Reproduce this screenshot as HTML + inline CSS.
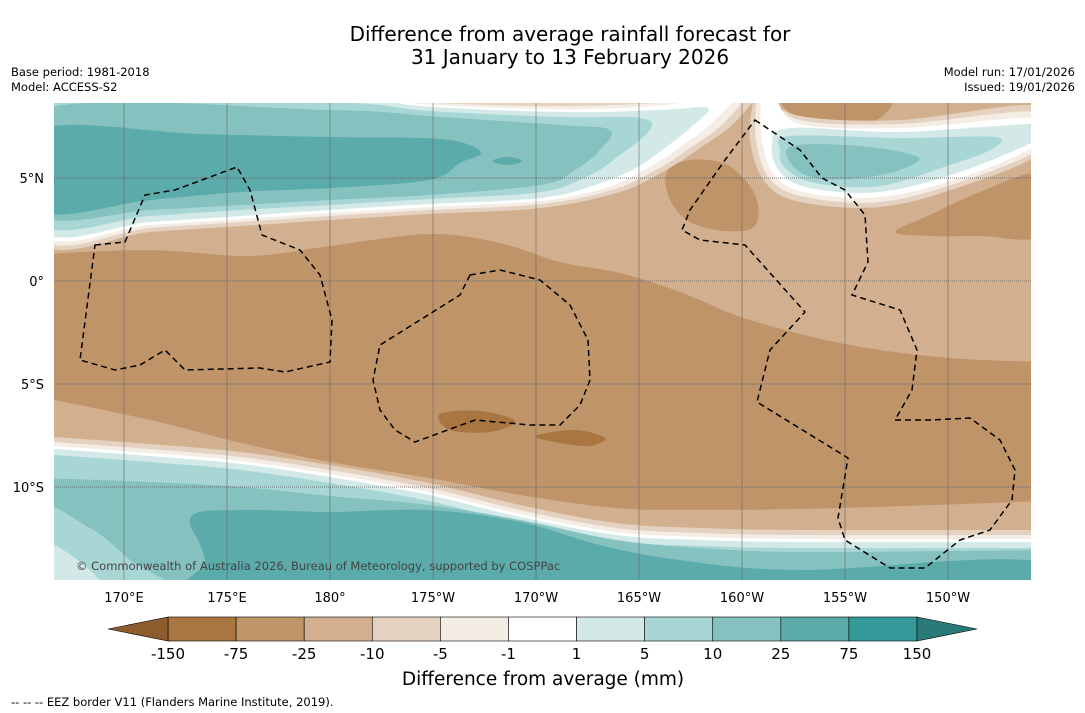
<!DOCTYPE html>
<html><head><meta charset="utf-8">
<style>
body{margin:0;background:#fff;width:1085px;height:713px;overflow:hidden;font-family:"DejaVu Sans","Liberation Sans",sans-serif;}
svg{display:block}
text{font-family:"DejaVu Sans","Liberation Sans",sans-serif;}
</style></head>
<body>
<svg id="s" width="1085" height="713" viewBox="0 0 1085 713">
<defs><clipPath id="mc"><rect x="54" y="103" width="977" height="477"/></clipPath></defs>
<text x="570" y="41" text-anchor="middle" font-size="20">Difference from average rainfall forecast for</text>
<text x="570" y="64" text-anchor="middle" font-size="20">31 January to 13 February 2026</text>
<text x="11" y="76" font-size="11.5">Base period: 1981-2018</text>
<text x="11" y="91" font-size="11.5">Model: ACCESS-S2</text>
<text x="1075" y="76" font-size="11.5" text-anchor="end">Model run: 17/01/2026</text>
<text x="1075" y="91" font-size="11.5" text-anchor="end">Issued: 19/01/2026</text>
<g id="map" clip-path="url(#mc)"></g>
<g id="ax"></g>
<g id="cb"></g>
<text x="543" y="685" text-anchor="middle" font-size="18.5">Difference from average (mm)</text>
<text x="11" y="706" font-size="11.5">--  --  -- EEZ border V11 (Flanders Marine Institute, 2019).</text>
</svg>
<script>
const NS="http://www.w3.org/2000/svg";
const levels=["-150","-75","-25","-10","-5","-1","1","5","10","25","75","150"];
const colors=["#a97540","#c09469","#d2b08f","#e4d1bf","#f3ede6","#ffffff","#d3e9e7","#a8d6d4","#84c1bf","#5aabaa","#35999a"];
const lonTicks=[170,175,180,-175,-170,-165,-160,-155,-150];
const lonLabels=["170°E","175°E","180°","175°W","170°W","165°W","160°W","155°W","150°W"];
const latTicks=[5,0,-5,-10];
const latLabels=["5°N","0°","5°S","10°S"];
const C={br2:"#a97540",br:"#c09469",tan:"#d2b08f",e4:"#e4d1bf",f3:"#f3ede6",w:"#ffffff",d3:"#d3e9e7",a8:"#a8d6d4",t84:"#84c1bf",t5a:"#5aabaa"};
function xLon(l){let e=l<0?360+l:l;return 124+(e-170)*20.6;}
function yLat(l){return 281-l*20.6;}
function smooth(p,closed){let d="M"+p[0][0]+","+p[0][1];const n=p.length;
 for(let i=0;i<(closed?n:n-1);i++){const p0=p[(i-1+n)%n],p1=p[i],p2=p[(i+1)%n],p3=p[(i+2)%n];
  const a=closed||i>0?p0:p1,b=closed||i<n-2?p3:p2;
  d+=` C${p1[0]+(p2[0]-a[0])/6},${p1[1]+(p2[1]-a[1])/6} ${p2[0]-(b[0]-p1[0])/6},${p2[1]-(b[1]-p1[1])/6} ${p2[0]},${p2[1]}`;}
 return d+(closed?"Z":"");}
const map=document.getElementById("map");
function poly(pts,fill,name){const e=document.createElementNS(NS,"path");e.setAttribute("d",smooth(pts,true));e.setAttribute("fill",fill);


map.appendChild(e);}
function southLine(line,dy,fill,name){const pts=line.map(p=>[p[0],p[1]+dy]);
 const e=document.createElementNS(NS,"path");e.setAttribute("d",smooth(pts,false)+" L1090,620 L0,620 Z");e.setAttribute("fill",fill);


map.appendChild(e);}
const bg=document.createElementNS(NS,"rect");bg.setAttribute("x",0);bg.setAttribute("y",0);bg.setAttribute("width",1085);bg.setAttribute("height",713);bg.setAttribute("fill",C.tan);


map.appendChild(bg);
poly([[667,172],[690,160],[728,165],[755,195],[755,226],[725,231],[690,222],[670,200]],C.br,"brown-blob-1");
poly([[895,232],[930,215],[980,192],[1040,175],[1040,235],[980,236],[930,236]],C.br,"brown-blob-2");
poly([[785,95],[885,95],[880,118],[840,126],[800,120]],C.br,"brown-blob-3");
const NL=[
 [C.e4,[[40,90],[330,90],[420,98],[560,101],[680,98],[752,92],[735,122],[700,148],[666,170],[620,192],[541,208],[429,214],[330,220],[241,226],[150,232],[40,241]]],
 [C.f3,[[40,90],[330,90],[420,102],[560,106],[670,102],[742,92],[725,122],[690,148],[656,170],[612,190],[541,204],[429,210],[330,216],[241,222],[150,228],[40,237]]],
 [C.w,[[40,90],[330,92],[420,104],[560,109],[665,105],[735,92],[715,120],[680,147],[648,168],[605,188],[541,201],[429,207],[330,213],[241,219],[150,225],[40,233]]],
 [C.d3,[[40,90],[330,94],[420,106],[560,112],[660,110],[708,108],[690,128],[665,148],[636,168],[595,185],[541,198],[429,204],[330,210],[241,216],[150,222],[40,229]]],
 [C.a8,[[40,100],[330,102],[430,111],[560,117],[640,118],[650,130],[620,155],[590,175],[541,192],[429,199],[330,205],[241,210],[150,216],[40,223]]],
 [C.t84,[[40,110],[330,110],[440,117],[560,125],[610,130],[600,150],[575,170],[541,185],[429,195],[330,200],[241,205],[150,210],[40,214]]],
 [C.t5a,[[40,130],[200,134],[330,137],[420,138],[460,142],[481,153],[460,163],[429,180],[330,188],[241,192],[150,200],[40,211]]]
];
NL.forEach((l,i)=>poly(l[1],l[0],"north-band-"+i));
poly([[492,161],[508,157],[522,161],[508,165]],C.t5a,"teal-spot");
const NR=[
 [C.e4,[[755,95],[765,95],[800,116],[900,120],[1040,106],[1040,152],[960,187],[880,207],[800,202],[765,182],[750,140]]],
 [C.f3,[[758,95],[770,95],[800,120],[900,124],[1040,112],[1040,148],[960,182],[880,202],[805,197],[770,179],[756,140]]],
 [C.w,[[762,95],[775,98],[800,124],[900,128],[1040,118],[1040,143],[960,178],[880,197],[808,193],[775,176],[762,140]]],
 [C.d3,[[790,128],[900,132],[1040,124],[1040,138],[960,172],[880,192],[810,188],[780,172],[772,145]]],
 [C.a8,[[790,136],[900,138],[995,137],[990,150],[950,165],[880,186],[815,183],[785,168],[780,150]]],
 [C.t84,[[792,146],[860,146],[918,157],[900,170],[860,178],[815,178],[792,165]]]
];
NR.forEach((l,i)=>poly(l[1],l[0],"north-right-band-"+i));
const brownTop=[[40,254],[150,250],[250,256],[330,246],[429,234],[500,243],[560,262],[620,273],[680,292],[750,320],[850,345],[950,358],[1045,362]];
southLine(brownTop,0,C.br,"brown-core");
const sLine=[[40,397],[150,420],[241,443],[330,462],[429,478],[520,495],[616,508],[700,510],[841,508],[1045,501]];
southLine(sLine,0,C.tan,"south-tan");
const eLine=[[40,436],[150,444],[241,452],[330,465],[429,483],[520,505],[616,523],[700,528],[804,530],[1045,530]];
[[C.e4,0],[C.f3,5],[C.w,9],[C.d3,12],[C.a8,18]].forEach((l,i)=>southLine(eLine,l[1],l[0],"south-band-"+i));
southLine([[40,478],[150,482],[241,487],[330,496],[429,505],[520,520],[616,540],[700,548],[804,552],[1045,550]],0,C.t84,"south-teal");
poly([[191,517],[240,510],[330,512],[429,510],[520,522],[600,545],[679,560],[800,570],[1045,563],[1045,640],[210,640],[205,560]],C.t5a,"south-dark-teal");
poly([[30,505],[90,528],[130,560],[165,590],[30,600]],C.a8,"sw-light-teal");
poly([[30,540],[75,558],[100,590],[30,600]],C.d3,"sw-lighter-teal");
poly([[440,414],[480,411],[515,421],[490,432],[450,430]],C.br2,"dark-brown-blob-1");
poly([[535,436],[575,430],[605,438],[590,446],[560,443]],C.br2,"dark-brown-blob-2");
lonTicks.forEach((l,i)=>{const g=document.createElementNS(NS,"line");g.setAttribute("x1",xLon(l));g.setAttribute("x2",xLon(l));g.setAttribute("y1",103);g.setAttribute("y2",580);g.setAttribute("stroke","#666");g.setAttribute("stroke-width","0.6");


map.appendChild(g);});
latTicks.forEach(l=>{const g=document.createElementNS(NS,"line");g.setAttribute("x1",54);g.setAttribute("x2",1031);g.setAttribute("y1",yLat(l));g.setAttribute("y2",yLat(l));g.setAttribute("stroke","#555");g.setAttribute("stroke-width","0.7");g.setAttribute("stroke-dasharray","1 1");


map.appendChild(g);});
const eez=[
 [[95,245],[125,242],[145,195],[175,190],[237,167],[250,190],[262,235],[300,250],[320,275],[332,320],[330,362],[285,372],[260,368],[185,370],[165,350],[140,365],[115,370],[80,360]],
 [[470,275],[500,270],[540,280],[570,305],[588,340],[590,380],[580,405],[560,425],[530,425],[475,420],[415,442],[395,430],[380,410],[373,380],[380,345],[420,320],[460,295]],
 [[755,120],[800,150],[822,178],[845,190],[865,215],[868,262],[852,295],[900,310],[917,350],[912,390],[895,420],[930,420],[970,418],[1000,440],[1015,470],[1012,500],[990,530],[960,540],[925,568],[890,568],[845,540],[838,518],[848,458],[757,402],[770,350],[805,312],[745,245],[700,240],[682,230],[690,210],[725,160]]
];
eez.forEach((p,i)=>{const e=document.createElementNS(NS,"polygon");e.setAttribute("points",p.map(q=>q.join(",")).join(" "));e.setAttribute("fill","none");e.setAttribute("stroke","#000");e.setAttribute("stroke-width","1.5");e.setAttribute("stroke-dasharray","6 4");


map.appendChild(e);});
const cp=document.createElementNS(NS,"text");cp.setAttribute("x",76);cp.setAttribute("y",570);cp.setAttribute("font-size","11.5");cp.setAttribute("fill","#444");cp.textContent="© Commonwealth of Australia 2026, Bureau of Meteorology, supported by COSPPac";


map.appendChild(cp);
const ax=document.getElementById("ax");
lonTicks.forEach((l,i)=>{const t=document.createElementNS(NS,"text");t.setAttribute("x",xLon(l));t.setAttribute("y",602);t.setAttribute("text-anchor","middle");t.setAttribute("font-size","13");t.textContent=lonLabels[i];


ax.appendChild(t);});
latTicks.forEach((l,i)=>{const t=document.createElementNS(NS,"text");t.setAttribute("x",44);t.setAttribute("y",yLat(l)+5);t.setAttribute("text-anchor","end");t.setAttribute("font-size","13");t.textContent=latLabels[i];


ax.appendChild(t);});
const cb=document.getElementById("cb");const x0=168,x1=917,y0=617,h=24;const bw=(x1-x0)/colors.length;
colors.forEach((c,i)=>{const r=document.createElementNS(NS,"rect");r.setAttribute("x",x0+i*bw);r.setAttribute("y",y0);r.setAttribute("width",bw);r.setAttribute("height",h);r.setAttribute("fill",c);r.setAttribute("stroke","#000");r.setAttribute("stroke-width","0.6");


cb.appendChild(r);});
const tl=document.createElementNS(NS,"polygon");tl.setAttribute("points",`${x0},${y0} 108,${y0+h/2} ${x0},${y0+h}`);tl.setAttribute("fill","#8c5c2c");tl.setAttribute("stroke","#000");tl.setAttribute("stroke-width","0.6");


cb.appendChild(tl);
const tr=document.createElementNS(NS,"polygon");tr.setAttribute("points",`${x1},${y0} 977,${y0+h/2} ${x1},${y0+h}`);tr.setAttribute("fill","#2a7a7a");tr.setAttribute("stroke","#000");tr.setAttribute("stroke-width","0.6");


cb.appendChild(tr);
levels.forEach((v,i)=>{const t=document.createElementNS(NS,"text");t.setAttribute("x",x0+i*bw);t.setAttribute("y",659);t.setAttribute("text-anchor","middle");t.setAttribute("font-size","15");t.textContent=v;


cb.appendChild(t);});
</script>
</body></html>
